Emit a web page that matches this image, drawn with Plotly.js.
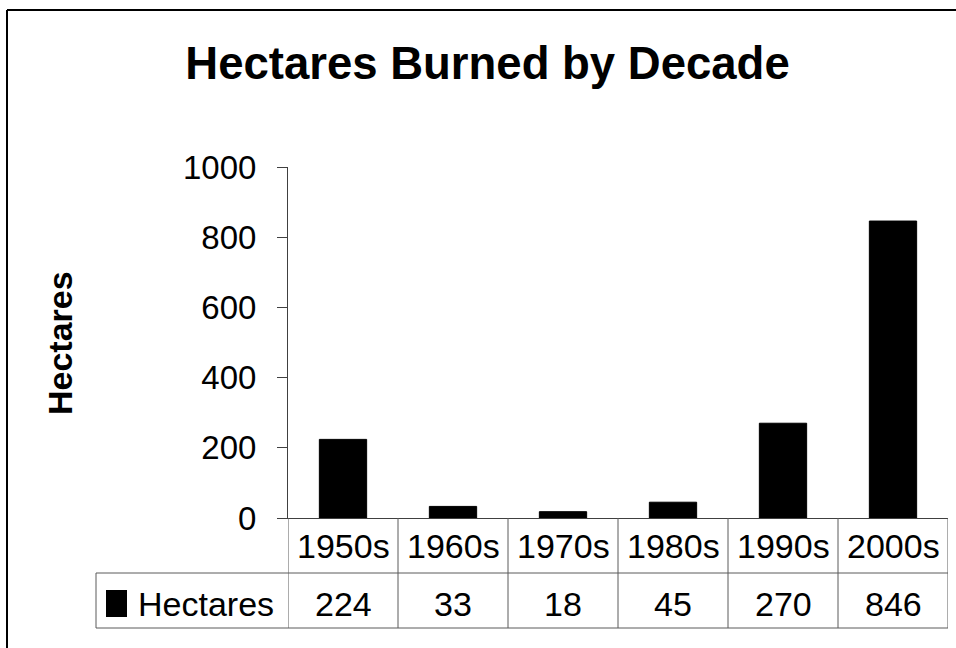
<!DOCTYPE html>
<html>
<head>
<meta charset="utf-8">
<script src="https://cdn.plot.ly/plotly-3.0.1.min.js"></script>
<style>html,body{margin:0;padding:0;background:#fff;}#chart{width:956px;height:648px;}</style>
</head>
<body>
<div id="chart"></div>
<script>
// ---- data ----
const decades = ["1950s", "1960s", "1970s", "1980s", "1990s", "2000s"];
const hectares = [224, 33, 18, 45, 270, 846];
const seriesName = "Hectares";
const yTicks = [0, 200, 400, 600, 800, 1000];
const chartTitle = "Hectares Burned by Decade";

// ---- geometry helpers (pixel -> paper) ----
const W = 956, H = 648;
const M = {l: 288, r: 8, t: 167, b: 130};
const PW = W - M.l - M.r, PH = H - M.t - M.b;
const px = p => (p - M.l) / PW;
const py = p => (H - M.b - p) / PH;

const FONT = '"Liberation Sans", Arial, Helvetica, sans-serif';
const LINE = '#5a5a5a';

const shapes = [];
const annotations = [];

// outer chart border (left and top visible)
shapes.push({type: 'line', xref: 'paper', yref: 'paper', x0: px(7), x1: px(7), y0: py(10), y1: py(H + 20), line: {color: '#000', width: 2}});
shapes.push({type: 'line', xref: 'paper', yref: 'paper', x0: px(7), x1: px(W + 20), y0: py(10), y1: py(10), line: {color: '#000', width: 2}});

// data table grid
const rowTop = H - M.b, rowMid = 573, rowBot = 628, legLeft = 96;
for (let i = 0; i <= decades.length; i++) {
  shapes.push({type: 'line', xref: 'x', yref: 'paper', x0: i - 0.5, x1: i - 0.5, y0: py(rowTop), y1: py(rowBot), line: {color: LINE, width: 1}});
}
shapes.push({type: 'line', xref: 'paper', yref: 'paper', x0: px(legLeft), x1: 1, y0: py(rowMid), y1: py(rowMid), line: {color: LINE, width: 1}});
shapes.push({type: 'line', xref: 'paper', yref: 'paper', x0: px(legLeft), x1: 1, y0: py(rowBot), y1: py(rowBot), line: {color: LINE, width: 1}});
shapes.push({type: 'line', xref: 'paper', yref: 'paper', x0: px(legLeft), x1: px(legLeft), y0: py(rowMid), y1: py(rowBot), line: {color: LINE, width: 1}});
// legend key
shapes.push({type: 'rect', xref: 'paper', yref: 'paper', x0: px(106), x1: px(127), y0: py(617), y1: py(590), fillcolor: '#000', line: {width: 0}});

decades.forEach((d, i) => {
  annotations.push({xref: 'x', yref: 'paper', x: i, y: py(546), text: d, showarrow: false, xanchor: 'center', yanchor: 'middle', font: {family: FONT, size: 34, color: '#000'}});
  annotations.push({xref: 'x', yref: 'paper', x: i, y: py(604), text: String(hectares[i]), showarrow: false, xanchor: 'center', yanchor: 'middle', font: {family: FONT, size: 34, color: '#000'}});
});
annotations.push({xref: 'paper', yref: 'paper', x: px(136), y: py(604), text: seriesName, showarrow: false, xanchor: 'left', yanchor: 'middle', font: {family: FONT, size: 34, color: '#000'}});
// y axis title
annotations.push({xref: 'paper', yref: 'paper', x: px(60), y: py(343), text: '<b>Hectares</b>', textangle: -90, showarrow: false, xanchor: 'center', yanchor: 'middle', font: {family: FONT, size: 34, color: '#000'}});

const trace = {
  type: 'bar', x: decades, y: hectares, name: seriesName,
  marker: {color: '#000', line: {color: '#000', width: 1}},
  width: 0.43, hoverinfo: 'skip'
};

const layout = {
  width: W, height: H,
  margin: M,
  paper_bgcolor: '#fff', plot_bgcolor: '#fff',
  showlegend: false,
  title: {text: '<b>' + chartTitle + '</b>', xref: 'container', yref: 'container', x: 487.5 / W, y: 1 - 63 / H, xanchor: 'center', yanchor: 'middle', font: {family: FONT, size: 45.5, color: '#000'}},
  xaxis: {type: 'category', range: [-0.5, decades.length - 0.5], showticklabels: false, ticks: '', showgrid: false, zeroline: false, showline: true, linecolor: '#404040', linewidth: 1, fixedrange: true},
  yaxis: {range: [0, 1000], autorange: false, tickvals: yTicks, ticks: 'outside', ticklen: 10, tickcolor: '#404040', tickwidth: 1, showline: true, linecolor: '#404040', linewidth: 1, showgrid: false, zeroline: false, ticklabelstandoff: 14, tickfont: {family: FONT, size: 33, color: '#000'}, fixedrange: true},
  shapes: shapes,
  annotations: annotations
};

Plotly.newPlot('chart', [trace], layout, {displayModeBar: false, staticPlot: true});
</script>
</body>
</html>
